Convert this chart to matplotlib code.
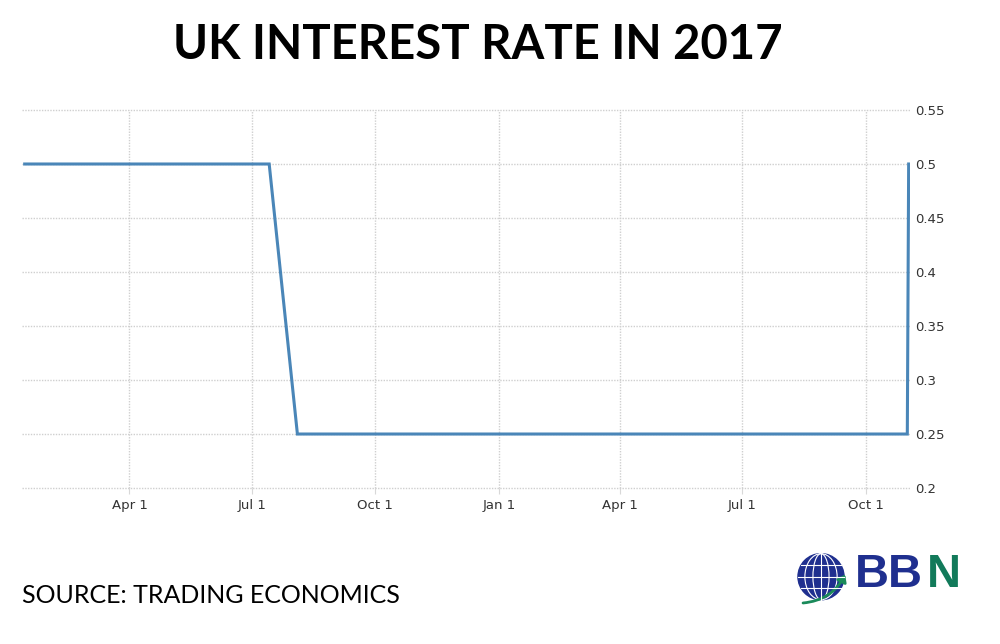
import pandas as pd
import matplotlib
matplotlib.use("Agg")
from matplotlib import pyplot as plt
from matplotlib.patches import Circle, Ellipse, FancyArrowPatch

# values
dates = ["2016-01-14", "2016-07-14", "2016-08-04", "2017-11-01", "2017-11-02"]
rates = [0.5, 0.5, 0.25, 0.25, 0.5]
tick_dates = ["2016-04-01", "2016-07-01", "2016-10-01", "2017-01-01",
              "2017-04-01", "2017-07-01", "2017-10-01"]
tick_labels = ["Apr 1", "Jul 1", "Oct 1", "Jan 1", "Apr 1", "Jul 1", "Oct 1"]
y_ticks = [0.2, 0.25, 0.3, 0.35, 0.4, 0.45, 0.5, 0.55]
y_labels = ["0.2", "0.25", "0.3", "0.35", "0.4", "0.45", "0.5", "0.55"]

x = pd.to_datetime(dates)

fig = plt.figure(figsize=(10, 6.44), dpi=100)
ax = fig.add_axes([0.022, 0.2422, 0.888, 0.587])

ax.plot(x, rates, color="#4a86b8", linewidth=2.2, solid_joinstyle="miter")

ax.set_xlim(pd.Timestamp("2016-01-12"), pd.Timestamp("2017-11-03"))
ax.set_ylim(0.2, 0.55)
ax.set_xticks(pd.to_datetime(tick_dates))
ax.set_xticklabels(tick_labels)
ax.set_yticks(y_ticks)
ax.set_yticklabels(y_labels)
ax.yaxis.tick_right()

for s in ax.spines.values():
    s.set_visible(False)
ax.grid(True, color="#cfcfcf", linestyle=(0, (1, 1)), linewidth=1.0)
ax.set_axisbelow(True)
# the bottom gridline sits on the axes edge, don't let it get cut in half
for gl in ax.get_xgridlines() + ax.get_ygridlines():
    gl.set_clip_on(False)
ax.tick_params(axis="x", length=4, color="#d8d8d8", labelsize=9.5,
               labelcolor="#333333", pad=4)
ax.tick_params(axis="y", length=0, labelsize=9.5, labelcolor="#333333", pad=4)

fig.text(0.478, 0.93, "UK INTEREST RATE IN 2017", ha="center", va="center",
         fontsize=34, fontweight="bold", family="Lato", color="black")
fig.text(0.022, 0.075, "SOURCE: TRADING ECONOMICS", ha="left", va="center",
         fontsize=18, family="Lato", color="black")

# BBN logo
lax = fig.add_axes([0.791, 0.058, 0.06, 0.093])
lax.set_xlim(-1.3, 1.3)
lax.set_ylim(-1.3, 1.3)
lax.set_aspect("equal")
lax.axis("off")
lax.add_patch(Circle((0, 0), 1, color="#1f2f8f"))
for w in [0.35, 0.7]:
    lax.add_patch(Ellipse((0, 0), 2 * w, 2, fill=False, ec="white", lw=0.8))
lax.plot([0, 0], [-1, 1], color="white", lw=0.8)
for yy in [-0.5, 0, 0.5]:
    hw = (1 - yy ** 2) ** 0.5
    lax.plot([-hw, hw], [yy, yy], color="white", lw=0.8)
lax.add_patch(FancyArrowPatch((-0.9, -1.15), (1.1, 0.2),
                              connectionstyle="arc3,rad=0.3",
                              arrowstyle="-|>,head_width=3,head_length=4",
                              color="#1a8a5a", lw=2))
fig.text(0.855, 0.107, "BB", ha="left", va="center", fontsize=34,
         fontweight="bold", family="Liberation Sans", color="#1f2f8f")
fig.text(0.927, 0.107, "N", ha="left", va="center", fontsize=34,
         fontweight="bold", family="Liberation Sans", color="#127a5a")

fig.savefig("out.png", dpi=100)
